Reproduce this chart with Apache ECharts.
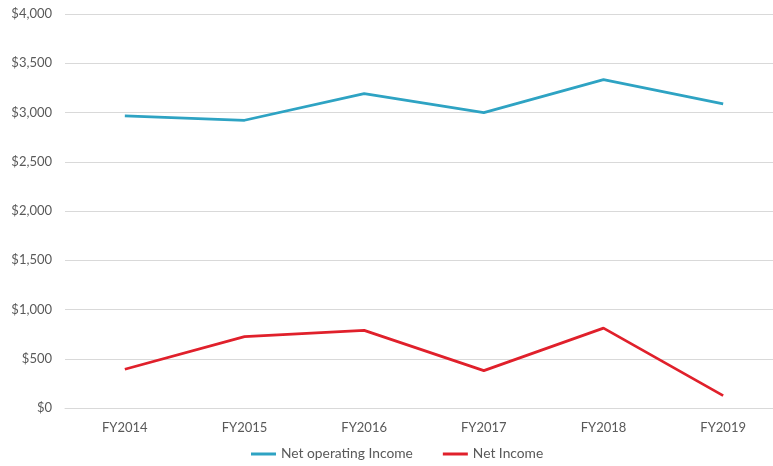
<!DOCTYPE html>
<html>
<head>
<meta charset="utf-8">
<script src="https://cdn.jsdelivr.net/npm/echarts@6/dist/echarts.min.js"></script>
<style>
  html, body { margin: 0; padding: 0; background: #ffffff; overflow: hidden; }
  /* the plot area runs a few pixels past the right edge of the window */
  #chart { width: 783px; height: 466px; }
</style>
</head>
<body>
<div id="chart"></div>
<script>
// Fiscal years on the category axis
const years = ['FY2014', 'FY2015', 'FY2016', 'FY2017', 'FY2018', 'FY2019'];
// Income figures (in $)
const netOperatingIncome = [2966, 2921, 3192, 2999, 3334, 3087];
const netIncome = [393, 724, 788, 379, 811, 126];
// Value axis range
const yMin = 0;
const yMax = 4000;
const yStep = 500;

const textColor = '#595959';
const gridColor = '#d9d9d9';
const fontFamily = 'Lato, "Open Sans", sans-serif';

const chart = echarts.init(document.getElementById('chart'));
chart.setOption({
  animation: false,
  textStyle: { fontFamily: fontFamily, color: textColor },
  grid: { left: 65, right: 0, top: 14, bottom: 58, containLabel: false },
  legend: {
    bottom: 0,
    left: 246,
    itemWidth: 25,
    itemHeight: 3,
    itemGap: 30,
    icon: 'rect',
    textStyle: { color: textColor, fontSize: 13.8, fontFamily: fontFamily },
    data: ['Net operating Income', 'Net Income']
  },
  xAxis: {
    type: 'category',
    data: years,
    boundaryGap: true,
    axisLine: { show: true, lineStyle: { color: gridColor, width: 1 } },
    axisTick: { show: false },
    axisLabel: { color: textColor, fontSize: 13, margin: 13, fontFamily: fontFamily }
  },
  yAxis: {
    type: 'value',
    min: yMin,
    max: yMax,
    interval: yStep,
    axisLine: { show: false },
    axisTick: { show: false },
    splitLine: { lineStyle: { color: gridColor, width: 1 } },
    axisLabel: {
      color: textColor,
      fontSize: 13,
      margin: 13,
      fontFamily: fontFamily,
      formatter: v => '$' + v.toLocaleString('en-US')
    }
  },
  series: [
    {
      name: 'Net operating Income',
      type: 'line',
      data: netOperatingIncome,
      symbol: 'none',
      lineStyle: { color: '#2ea3c3', width: 2.75 },
      itemStyle: { color: '#2ea3c3' }
    },
    {
      name: 'Net Income',
      type: 'line',
      data: netIncome,
      symbol: 'none',
      lineStyle: { color: '#e0202b', width: 2.75 },
      itemStyle: { color: '#e0202b' }
    }
  ]
});
</script>
</body>
</html>
